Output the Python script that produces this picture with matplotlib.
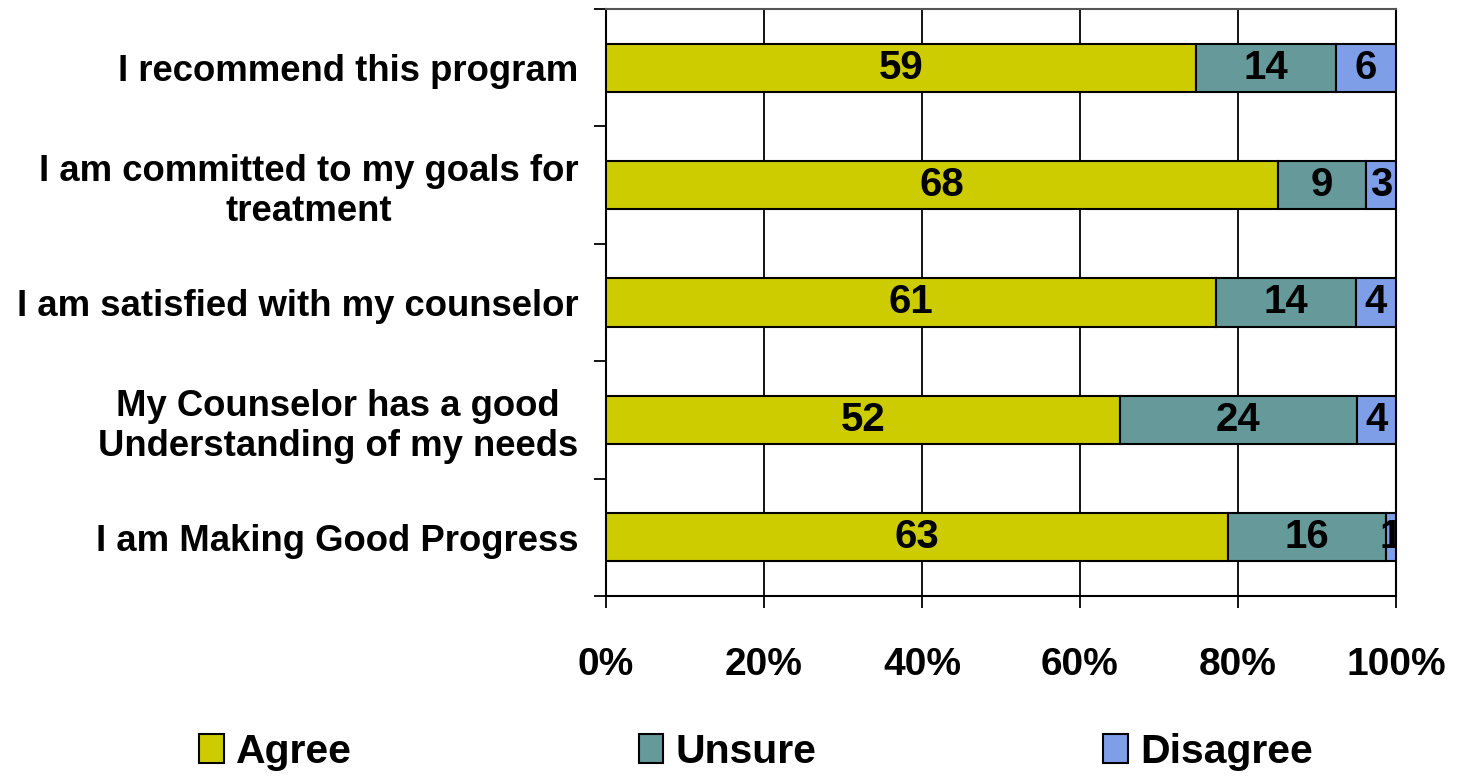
import numpy as np
import matplotlib.pyplot as plt
from matplotlib.ticker import FixedLocator

plt.rcParams['font.family'] = ['Liberation Sans', 'DejaVu Sans']
plt.rcParams['font.weight'] = 'bold'

# data (top to bottom)
questions = ["I recommend this program",
             "I am committed to my goals for\ntreatment",
             "I am satisfied with my counselor",
             "My Counselor has a good\nUnderstanding of my needs",
             "I am Making Good Progress"]
agree = [59, 68, 61, 52, 63]
unsure = [14, 9, 14, 24, 16]
disagree = [6, 3, 4, 4, 1]
series_names = ["Agree", "Unsure", "Disagree"]
colors = ["#cccc00", "#669999", "#7e9ee8"]
xticks = [0, 20, 40, 60, 80, 100]

counts = np.array([agree, unsure, disagree], dtype=float)
shares = counts / counts.sum(axis=0)

fig = plt.figure(figsize=(14.72, 7.77), dpi=100)
ax = fig.add_axes([606 / 1472, 1 - 596 / 777, 790 / 1472, 587 / 777])

ypos = np.arange(len(questions))
left = np.zeros(len(questions))
for i in range(3):
    ax.barh(ypos, shares[i], left=left, height=0.41, color=colors[i],
            edgecolor='black', linewidth=1.5, label=series_names[i], zorder=3)
    for j in range(len(questions)):
        ax.text(left[j] + shares[i][j] / 2, ypos[j], f"{int(counts[i][j])}",
                ha='center', va='center', fontsize=29, fontweight='bold',
                zorder=4, clip_on=True)
    left += shares[i]

ax.set_xlim(0, 1)
ax.set_ylim(len(questions) - 0.5, -0.5)

ax.set_xticks([v / 100 for v in xticks])
ax.set_xticklabels([f"{v}%" for v in xticks])
ax.tick_params(axis='x', direction='out', length=8.6, width=1.3, pad=28,
               labelsize=28)
ax.grid(axis='x', color='black', linewidth=1.3, zorder=0)

ax.set_yticks(ypos)
ax.set_yticklabels(questions, multialignment='center')
ax.tick_params(axis='y', which='major', length=0, pad=20, labelsize=26.3)
ax.yaxis.set_minor_locator(FixedLocator(np.arange(-0.5, len(questions), 1)))
ax.tick_params(axis='y', which='minor', direction='out', length=8.6, width=1.3)
for lbl in ax.get_xticklabels() + ax.get_yticklabels():
    lbl.set_fontweight('bold')

for side in ['left', 'bottom', 'right']:
    ax.spines[side].set_color('black')
    ax.spines[side].set_linewidth(1.5)
ax.spines['top'].set_color('#555555')
ax.spines['top'].set_linewidth(1.5)

fig.legend(loc='center', bbox_to_anchor=(756 / 1472, 1 - 752 / 777), ncol=3,
           frameon=False, prop={'size': 29.5, 'weight': 'bold'},
           handlelength=0.6, handleheight=0.7, handletextpad=0.3,
           columnspacing=7.0)

fig.savefig('out.png', dpi=100)
